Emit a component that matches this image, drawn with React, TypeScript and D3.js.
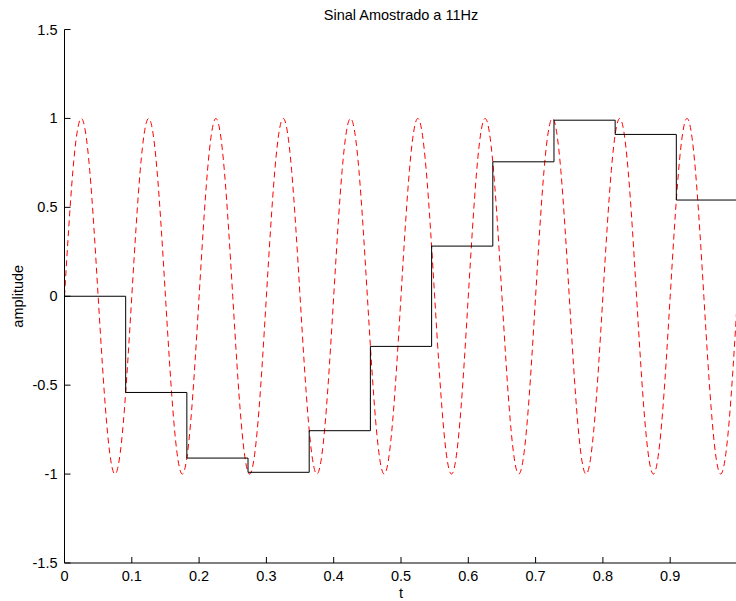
import React from "react";
import * as d3 from "d3";

const sineT: number[] = [
  0, 0.0125, 0.025, 0.0375, 0.05, 0.0625, 0.075, 0.0875,
  0.1, 0.1125, 0.125, 0.1375, 0.15, 0.1625, 0.175, 0.1875,
  0.2, 0.2125, 0.225, 0.2375, 0.25, 0.2625, 0.275, 0.2875,
  0.3, 0.3125, 0.325, 0.3375, 0.35, 0.3625, 0.375, 0.3875,
  0.4, 0.4125, 0.425, 0.4375, 0.45, 0.4625, 0.475, 0.4875,
  0.5, 0.5125, 0.525, 0.5375, 0.55, 0.5625, 0.575, 0.5875,
  0.6, 0.6125, 0.625, 0.6375, 0.65, 0.6625, 0.675, 0.6875,
  0.7, 0.7125, 0.725, 0.7375, 0.75, 0.7625, 0.775, 0.7875,
  0.8, 0.8125, 0.825, 0.8375, 0.85, 0.8625, 0.875, 0.8875,
  0.9, 0.9125, 0.925, 0.9375, 0.95, 0.9625, 0.975, 0.9875,
  1.0,
];
const sineValues: number[] = [
  0, 0.707, 1, 0.707, 0, -0.707, -1, -0.707,
  0, 0.707, 1, 0.707, 0, -0.707, -1, -0.707,
  0, 0.707, 1, 0.707, 0, -0.707, -1, -0.707,
  0, 0.707, 1, 0.707, 0, -0.707, -1, -0.707,
  0, 0.707, 1, 0.707, 0, -0.707, -1, -0.707,
  0, 0.707, 1, 0.707, 0, -0.707, -1, -0.707,
  0, 0.707, 1, 0.707, 0, -0.707, -1, -0.707,
  0, 0.707, 1, 0.707, 0, -0.707, -1, -0.707,
  0, 0.707, 1, 0.707, 0, -0.707, -1, -0.707,
  0, 0.707, 1, 0.707, 0, -0.707, -1, -0.707,
  0,
];

const sampleT: number[] = [0, 0.0909, 0.1818, 0.2727, 0.3636, 0.4545, 0.5455, 0.6364, 0.7273, 0.8182, 0.9091, 1.0];
const sampleValues: number[] = [0, -0.541, -0.910, -0.990, -0.756, -0.282, 0.282, 0.756, 0.990, 0.910, 0.541, 0.541];

const xTicks: number[] = [0, 0.1, 0.2, 0.3, 0.4, 0.5, 0.6, 0.7, 0.8, 0.9, 1];
const xTickLabels: string[] = ["0", "0.1", "0.2", "0.3", "0.4", "0.5", "0.6", "0.7", "0.8", "0.9", ""];
const yTicks: number[] = [-1.5, -1, -0.5, 0, 0.5, 1, 1.5];
const yTickLabels: string[] = ["-1.5", "-1", "-0.5", "0", "0.5", "1", "1.5"];

const title = "Sinal Amostrado a 11Hz";
const xLabel = "t";
const yLabel = "amplitude";

export default function App() {
  const W = 736, H = 601;
  const left = 64.5, right = 737.5, top = 29.5, bottom = 563;
  const x = d3.scaleLinear().domain([0, 1]).range([left, right]);
  const y = d3.scaleLinear().domain([-1.5, 1.5]).range([bottom, top]);

  const sineLine = d3
    .line<number>()
    .x((_, i) => x(sineT[i]))
    .y((d) => y(d))
    .curve(d3.curveNatural);
  const stairLine = d3
    .line<number>()
    .x((_, i) => x(sampleT[i]))
    .y((d) => y(d))
    .curve(d3.curveStepAfter);

  const font = "'Liberation Sans', Arial, Helvetica, sans-serif";
  const fs = 14.5;

  return (
    <svg width={W} height={H} style={{ position: "absolute", left: 0, top: 0, background: "#fff" }} fontFamily={font}>
      <rect x={0} y={0} width={W} height={H} fill="#fff" />
      <path d={sineLine(sineValues) || ""} fill="none" stroke="#ff0000" strokeWidth={1} strokeDasharray="6,4" />
      <path d={stairLine(sampleValues) || ""} fill="none" stroke="#000" strokeWidth={1} />
      <line x1={left} x2={left} y1={top} y2={bottom} stroke="#000" strokeWidth={1} />
      <line x1={left} x2={right} y1={bottom} y2={bottom} stroke="#000" strokeWidth={1} />
      {yTicks.map((v, i) => (
        <g key={"y" + v}>
          <line x1={left} x2={left + 6} y1={y(v)} y2={y(v)} stroke="#000" strokeWidth={1} />
          <text x={left - 7} y={y(v)} dy="0.35em" textAnchor="end" fontSize={fs} fill="#000">
            {yTickLabels[i]}
          </text>
        </g>
      ))}
      {xTicks.map((v, i) => (
        <g key={"x" + v}>
          <line x1={x(v)} x2={x(v)} y1={bottom} y2={bottom - 6} stroke="#000" strokeWidth={1} />
          {xTickLabels[i] && (
            <text x={x(v)} y={bottom + 18} textAnchor="middle" fontSize={fs} fill="#000">
              {xTickLabels[i]}
            </text>
          )}
        </g>
      ))}
      <text x={(left + right) / 2} y={20} textAnchor="middle" fontSize={fs} fill="#000">
        {title}
      </text>
      <text x={(left + right) / 2} y={598} textAnchor="middle" fontSize={fs} fill="#000">
        {xLabel}
      </text>
      <text transform={`translate(23, ${y(0)}) rotate(-90)`} textAnchor="middle" fontSize={fs} fill="#000">
        {yLabel}
      </text>
    </svg>
  );
}
